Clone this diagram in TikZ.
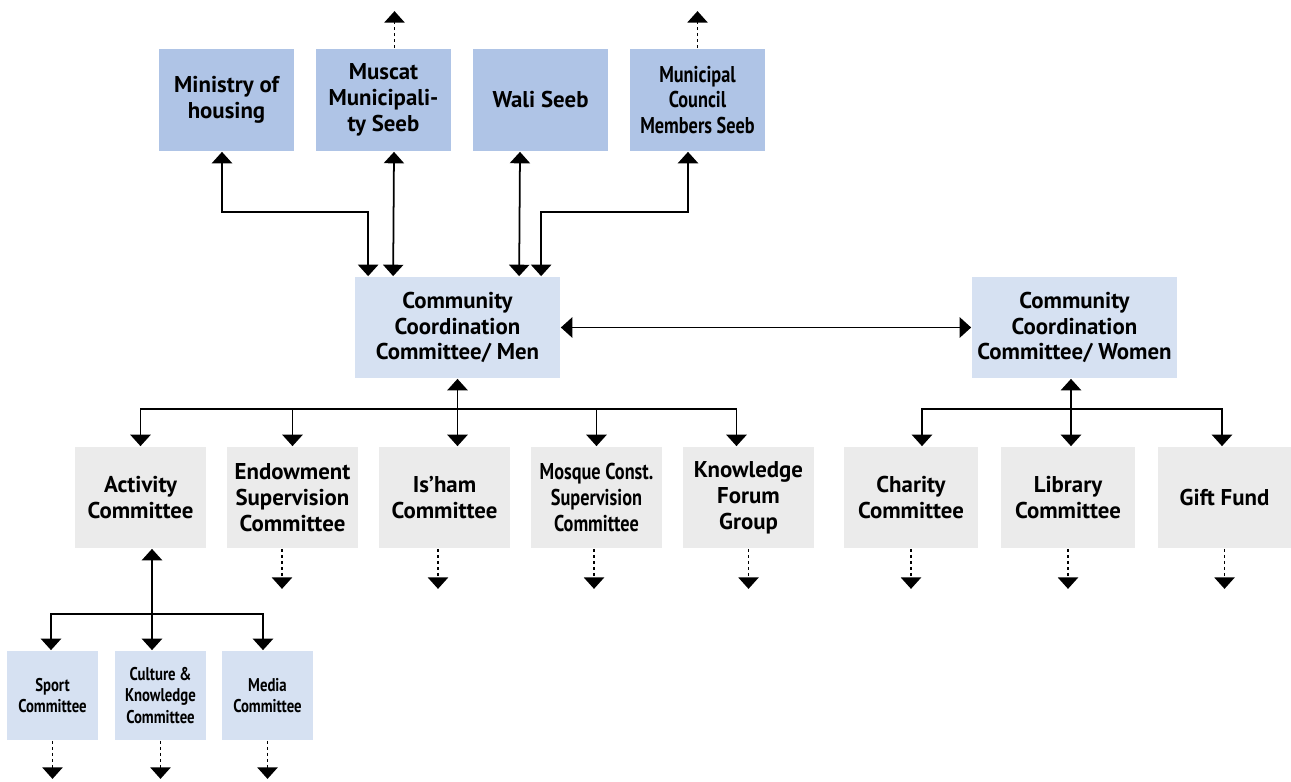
\documentclass[tikz,border=0pt]{standalone}
\usepackage{fontspec}
\setmainfont{PT Sans}
\newfontfamily\narrowfont[FakeStretch=0.8]{PT Sans}
\usetikzlibrary{arrows.meta, calc}
\definecolor{topblue}{RGB}{175,196,230}
\definecolor{paleblue}{RGB}{214,225,242}
\definecolor{panelgray}{RGB}{235,235,235}

\begin{document}
\begin{tikzpicture}[x=0.02cm, y=-0.02cm, line width=1pt,
    >={Triangle[width=11.5pt,length=6.5pt]},
    box/.style={fill=#1, inner sep=1pt, align=center,
      font=\bfseries\fontsize{13}{14.7}\selectfont},
    topbox/.style={box=topblue, minimum width=2.7cm, minimum height=2.04cm},
    ccbox/.style={box=paleblue, minimum width=4.1cm, minimum height=2.02cm},
    combox/.style={box=panelgray, minimum width=2.62cm, minimum height=2.02cm},
    narrowtext/.style={font=\bfseries\narrowfont\fontsize{13}{14.7}\selectfont},
    subbox/.style={box=paleblue, minimum width=1.82cm, minimum height=1.78cm,
      font=\bfseries\narrowfont\fontsize{10.5}{12}\selectfont},
    further/.style={->, line width=0.8pt, dash pattern=on 2pt off 1.4pt}]
  \useasboundingbox (0,0) rectangle (1291,781);
  % Authorities on top.
  \node[topbox] (min) at (226.5,100) {Ministry of\\housing};
  \node[topbox] (mus) at (383.5,100) {Muscat\\Municipali-\\ty Seeb};
  \node[topbox] (wal) at (540.5,100) {Wali Seeb};
  \node[topbox, narrowtext] (mcm) at (697.5,100) {Municipal\\Council\\Members Seeb};
  % The two coordination committees.
  \node[ccbox] (men) at (457.5,327.5) {Community\\Coordination\\Committee/ Men};
  \node[ccbox] (wom) at (1074.5,327.5) {Community\\Coordination\\Committee/ Women};
  % Committees below them.
  \node[combox] (act) at (140.5,497.5) {Activity\\Committee};
  \node[combox] (end) at (292.5,497.5) {Endowment\\Supervision\\Committee};
  \node[combox] (ish) at (444.5,497.5) {Is’ham\\Committee};
  \node[combox, narrowtext] (mos) at (596.5,497.5) {Mosque Const.\\Supervision\\Committee};
  \node[combox] (kno) at (748.5,497.5) {Knowledge\\Forum\\Group};
  \node[combox, minimum width=2.68cm] (cha) at (911,497.5) {Charity\\Committee};
  \node[combox, minimum width=2.68cm] (lib) at (1068,497.5) {Library\\Committee};
  \node[combox, minimum width=2.68cm] (gif) at (1224.5,497.5) {Gift Fund};
  \node[subbox] (spo) at (52.5,695.5) {Sport\\Committee};
  \node[subbox] (cul) at (160.5,695.5) {Culture \&\\Knowledge\\Committee};
  \node[subbox] (med) at (267.5,695.5) {Media\\Committee};
  % Links between the authorities and the men's committee.
  \coordinate (m1) at ($(men.north west)+(14,0)$);
  \coordinate (m4) at ($(men.north west)+(187,0)$);
  \draw[<->] ($(min.south)+(-4.5,0)$) -- ++(0,60) -| (m1);
  \draw[<->] ($(mus.south)+(10.5,0)$) -- ($(men.north west)+(39,0)$);
  \draw[<->] ($(wal.south)+(-20.5,0)$) -- ($(men.north west)+(165,0)$);
  \draw[<->] ($(mcm.south)+(-9.5,0)$) -- ++(0,60) -| (m4);
  \draw[further] ($(mus.north)+(11,0)$) -- ++(0,-37);
  \draw[further] (mcm.north) -- ++(0,-37);
  \draw[<->] (men.east) -- (wom.west);
  % Men's committees.
  \coordinate (bm) at ($(men.south)+(0,30)$);
  \draw[<->] (men.south) -- (men.south |- ish.north);
  \draw[->] (bm) -| (act.north);
  \draw[->] (bm) -| (end.north);
  \draw[->] (bm) -| (mos.north);
  \draw[->] (bm) -| ($(kno.north)+(-12,0)$);
  % Women's committees.
  \coordinate (bw) at ($(wom.south)+(-3.5,30)$);
  \draw[<->] ($(wom.south)+(-3.5,0)$) -- ($(lib.north)+(3,0)$);
  \draw[->] (bw) -| ($(cha.north)+(11,0)$);
  \draw[->] (bw) -| ($(gif.north)+(-2.5,0)$);
  % Activity sub-committees.
  \coordinate (ba) at ($(act.south)+(11.5,65)$);
  \draw[<->] ($(act.south)+(11.5,0)$) -- ($(cul.north)+(-8.5,0)$);
  \draw[->] (ba) -| ($(spo.north)+(-1.5,0)$);
  \draw[->] (ba) -| ($(med.north)+(-4.5,0)$);
  % Further links, not shown.
  \foreach \n/\dx in {end/-10.5, ish/-6.5, mos/-2.5, kno/0, cha/0, lib/0, gif/0}
    \draw[further] ($(\n.south)+(\dx,0)$) -- ++(0,40);
  \foreach \n in {spo, cul, med}
    \draw[further] (\n.south) -- ++(0,38);
\end{tikzpicture}
\end{document}
